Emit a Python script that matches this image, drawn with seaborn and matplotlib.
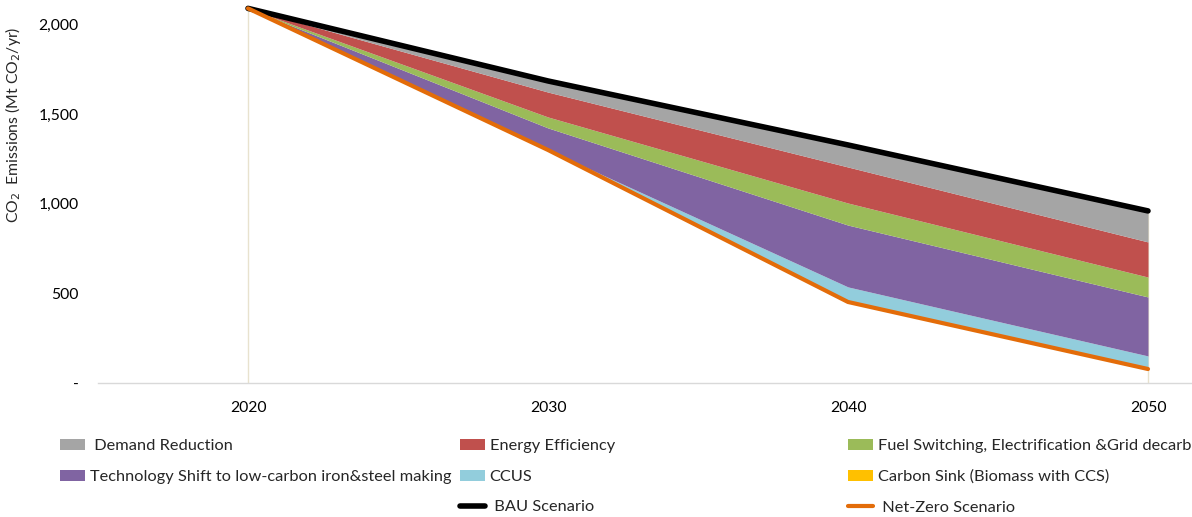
import numpy as np
import pandas as pd
import matplotlib
matplotlib.use("Agg")
import matplotlib.pyplot as plt
import seaborn as sns
from matplotlib.patches import Patch
from matplotlib.lines import Line2D

# ---- data ----
years = ["2020", "2030", "2040", "2050"]
net_zero = [2090, 1300, 452, 78]
ccus = [0, 0, 84, 73]
carbon_sink = [0, 0, 0, 0]
tech_shift = [0, 123, 345, 329]
fuel_switch = [0, 61, 123, 111]
energy_eff = [0, 139, 201, 196]
demand_red = [0, 62, 123, 173]
bau = [2090, 1685, 1328, 960]
y_ticks = [0, 500, 1000, 1500, 2000]
y_tick_labels = ["-", "500", "1,000", "1,500", "2,000"]

layer_names = ["CCUS", "Carbon Sink (Biomass with CCS)",
               "Technology Shift to low-carbon iron&steel making",
               "Fuel Switching, Electrification &Grid decarb",
               "Energy Efficiency", "Demand Reduction"]
layer_vals = [ccus, carbon_sink, tech_shift, fuel_switch, energy_eff, demand_red]
colors = {"Demand Reduction": "#A5A5A5",
          "Energy Efficiency": "#C0504D",
          "Fuel Switching, Electrification &Grid decarb": "#9BBB59",
          "Technology Shift to low-carbon iron&steel making": "#8064A2",
          "CCUS": "#92CDDC",
          "Carbon Sink (Biomass with CCS)": "#FFC000"}

sns.set_theme(style="white")
plt.rcParams["font.family"] = ["Lato", "DejaVu Sans"]

W, H = 1192, 517
fig = plt.figure(figsize=(W / 100, H / 100), dpi=100)
ax = fig.add_axes([98 / W, 1 - 383 / H, (W - 98) / W, 383 / H])

x = np.arange(len(years))
df = pd.DataFrame({"x": x, "bau": bau, "net": net_zero})

# drop lines
ax.vlines([x[0], x[-1]], 0, [bau[0], bau[-1]], color="#E8E2CE", lw=1, zorder=1)

base = np.array(net_zero, dtype=float)
for name, vals in zip(layer_names, layer_vals):
    top = base + np.array(vals, dtype=float)
    ax.fill_between(x, base, top, color=colors[name], lw=0, zorder=2)
    base = top

sns.lineplot(data=df, x="x", y="bau", ax=ax, color="black", lw=4, zorder=4)
sns.lineplot(data=df, x="x", y="net", ax=ax, color="#E36C09", lw=3, zorder=4)

ax.set_xlim(-0.5, (W - 248) / 300)
ax.set_ylim(0, 383 / 0.17925)
ax.set_xticks(x)
ax.set_xticklabels(years, fontsize=11.3, color="#000000")
ax.set_xticks(np.arange(-0.5, 3, 1), minor=True)
ax.tick_params(axis="x", which="major", length=0, pad=13)
ax.tick_params(axis="x", which="minor", length=5, width=1, color="#D9D9D9", direction="out")
ax.set_yticks(y_ticks)
ax.set_yticklabels(y_tick_labels, fontsize=11.3, color="#000000")
ax.tick_params(axis="y", length=0, pad=14)
ax.set_xlabel("")
ax.set_ylabel("")
for s in ["top", "right", "left"]:
    ax.spines[s].set_visible(False)
ax.spines["bottom"].set_color("#D9D9D9")
ax.spines["bottom"].set_linewidth(1)
ax.grid(False)

fig.text(13 / W, 1 - 125 / H, r"CO$_2$  Emissions (Mt CO$_2$/yr)",
         rotation=90, ha="center", va="center", fontsize=11.3)

# legend in three columns
def patch(n):
    return Patch(facecolor=colors[n], edgecolor="none")

cols = [
    (60, [patch("Demand Reduction"),
          patch("Technology Shift to low-carbon iron&steel making")],
     [" Demand Reduction", "Technology Shift to low-carbon iron&steel making"]),
    (460, [patch("Energy Efficiency"), patch("CCUS"),
           Line2D([], [], color="black", lw=4)],
     ["Energy Efficiency", "CCUS", " BAU Scenario"]),
    (848, [patch("Fuel Switching, Electrification &Grid decarb"),
           patch("Carbon Sink (Biomass with CCS)"),
           Line2D([], [], color="#E36C09", lw=3)],
     ["Fuel Switching, Electrification &Grid decarb",
      "Carbon Sink (Biomass with CCS)", " Net-Zero Scenario"]),
]
for xpx, handles, labels in cols:
    fig.legend(handles, labels, loc="upper left",
               bbox_to_anchor=(xpx / W, 1 - 439 / H), frameon=False,
               fontsize=11.8, borderpad=0, borderaxespad=0,
               handlelength=1.5, handleheight=0.65, handletextpad=0.3,
               labelspacing=1.0)

fig.savefig("out.png", dpi=100)
